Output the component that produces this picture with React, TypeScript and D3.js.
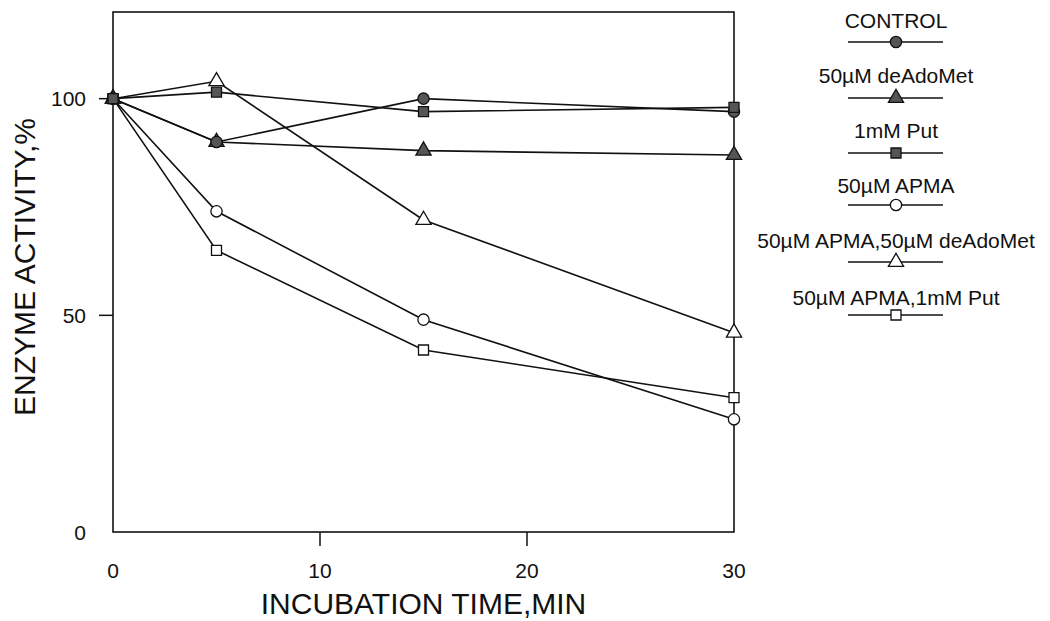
import React from "react";
import * as d3 from "d3";

// Incubation times (min)
const times = [0, 5, 15, 30];

// Enzyme activity (% of initial) for each treatment
const control = [100, 90, 100, 97];
const deAdoMet = [100, 90, 88, 87];
const put = [100, 101.5, 97, 98];
const apma = [100, 74, 49, 26];
const apmaDeAdoMet = [100, 104, 72, 46];
const apmaPut = [100, 65, 42, 31];

const seriesNames = [
  "CONTROL",
  "50µM deAdoMet",
  "1mM Put",
  "50µM APMA",
  "50µM APMA,50µM deAdoMet",
  "50µM APMA,1mM Put",
];

const xTickLabels = [0, 10, 20, 30];
const yTickLabels = [0, 50, 100];
const xTickMarks = [10, 20];
const yTickMarks = [50, 100];

type Shape = "circle" | "triangle" | "square";
const shapes: Shape[] = ["circle", "triangle", "square", "circle", "triangle", "square"];
const filled = [true, true, true, false, false, false];
const values = [control, deAdoMet, put, apma, apmaDeAdoMet, apmaPut];

const W = 1050;
const H = 621;
const plot = { left: 113, right: 734, top: 12, bottom: 532 };

const x = d3.scaleLinear().domain([0, 30]).range([plot.left, plot.right]);
const y = d3.scaleLinear().domain([0, 120]).range([plot.bottom, plot.top]);

const FONT = "'Liberation Sans', Arial, Helvetica, sans-serif";
const INK = "#111";
const FILL = "#555";

function Marker({ cx, cy, shape, solid }: { cx: number; cy: number; shape: Shape; solid: boolean }) {
  const sym =
    shape === "circle" ? d3.symbolCircle : shape === "triangle" ? d3.symbolTriangle : d3.symbolSquare;
  const d = d3.symbol().type(sym).size(100)()!;
  return (
    <path
      d={d}
      transform={`translate(${cx},${cy})`}
      fill={solid ? FILL : "#fff"}
      stroke={INK}
      strokeWidth={1.3}
    />
  );
}

export default function App() {
  const line = d3
    .line<number>()
    .x((_, i) => x(times[i]))
    .y((v) => y(v));

  // open series underneath, filled ones on top
  const order = [3, 4, 5, 1, 0, 2];

  const legendX = 896;
  const legendRows = [28, 83, 138, 193, 248, 305];
  const legendLineOffset = [14, 15, 15, 12, 14, 10];

  return (
    <svg
      width={W}
      height={H}
      style={{ position: "absolute", left: 0, top: 0, background: "#fff" }}
      fontFamily={FONT}
    >
      <rect x={0} y={0} width={W} height={H} fill="#fff" />

      {/* frame */}
      <rect
        x={plot.left}
        y={plot.top}
        width={plot.right - plot.left}
        height={plot.bottom - plot.top}
        fill="none"
        stroke={INK}
        strokeWidth={1.6}
      />

      {/* ticks */}
      {yTickMarks.map((t) => (
        <line key={"yt" + t} x1={plot.left - 14} x2={plot.left} y1={y(t)} y2={y(t)} stroke={INK} strokeWidth={1.5} />
      ))}
      {xTickMarks.map((t) => (
        <line key={"xt" + t} x1={x(t)} x2={x(t)} y1={plot.bottom} y2={plot.bottom + 14} stroke={INK} strokeWidth={1.5} />
      ))}

      {/* tick labels */}
      {yTickLabels.map((t) => (
        <text key={"yl" + t} x={plot.left - 27} y={y(t)} dy="0.36em" textAnchor="end" fontSize={21} fill={INK}>
          {t}
        </text>
      ))}
      {xTickLabels.map((t) => (
        <text key={"xl" + t} x={x(t)} y={578} textAnchor="middle" fontSize={21} fill={INK}>
          {t}
        </text>
      ))}

      {/* axis titles */}
      <text x={(plot.left + plot.right) / 2} y={614} textAnchor="middle" fontSize={30} fill={INK}>
        INCUBATION TIME,MIN
      </text>
      <text transform={`translate(35, 267) rotate(-90)`} textAnchor="middle" fontSize={30} fill={INK}>
        ENZYME ACTIVITY,%
      </text>

      {/* series lines */}
      {order.map((s) => (
        <path key={"l" + s} d={line(values[s])!} fill="none" stroke={INK} strokeWidth={1.6} />
      ))}

      {/* markers */}
      {order.map((s) =>
        values[s].map((v, i) => (
          <Marker key={`m${s}-${i}`} cx={x(times[i])} cy={y(v)} shape={shapes[s]} solid={filled[s]} />
        ))
      )}

      {/* legend */}
      {seriesNames.map((name, i) => {
        const ly = legendRows[i] + legendLineOffset[i];
        return (
          <g key={"lg" + i}>
            <text x={legendX} y={legendRows[i]} textAnchor="middle" fontSize={21} fill={INK}>
              {name}
            </text>
            <line x1={848} x2={943} y1={ly} y2={ly} stroke={INK} strokeWidth={1.5} />
            <Marker cx={legendX} cy={ly} shape={shapes[i]} solid={filled[i]} />
          </g>
        );
      })}
    </svg>
  );
}
